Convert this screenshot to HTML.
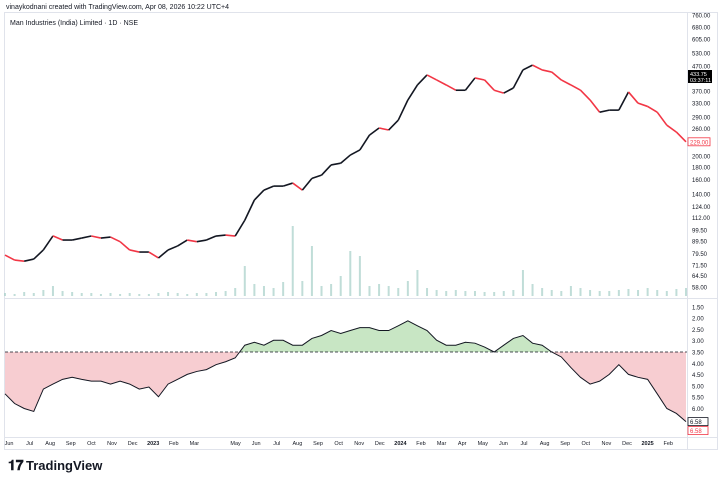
<!DOCTYPE html>
<html><head><meta charset="utf-8"><style>
body{margin:0;width:720px;height:481px;background:#fff;overflow:hidden;font-family:"Liberation Sans",sans-serif}
svg{position:absolute;left:0;top:0}
</style></head><body>
<svg id="c" width="720" height="481" xmlns="http://www.w3.org/2000/svg">
<text x="6" y="9" font-size="7" fill="#131722">vinaykodnani created with TradingView.com, Apr 08, 2026 10:22 UTC+4</text>
<rect x="4.5" y="12.5" width="713" height="437" fill="none" stroke="#e0e3eb"/>
<line x1="687.5" y1="12" x2="687.5" y2="450" stroke="#e0e3eb"/>
<line x1="5" y1="298.5" x2="718" y2="298.5" stroke="#e0e3eb"/>
<line x1="5" y1="437.5" x2="718" y2="437.5" stroke="#e0e3eb"/>
<text x="10" y="25" font-size="7" fill="#131722">Man Industries (India) Limited · 1D · NSE</text>
<g id="vol"></g><g id="price"></g><g id="osc"></g><g id="axes"></g>
<g>
<text x="8" y="470" font-size="14" font-weight="bold" fill="#131722">𝟏𝟕</text>
<text x="26" y="470" font-size="13" font-weight="bold" fill="#131722">TradingView</text>
</g>
</svg>
<script>
const priceTicks=[760,680,605,530,470,370,330,290,260,230,200,180,160,140,124,112,99.5,89.5,79.5,71.5,64.5,58];
const prices=[78.4,74.8,74,75.5,82.3,94,90.4,90.4,92.1,93.9,92.1,93,89,82.3,80.7,80.7,76.3,82.3,85.5,90.4,89,90.4,93.9,94.8,93.9,109,132,145,150.6,150.6,155,145,162,167,184,187,202,212,244,261,256,281,340,392,431,411,392,373,373,419,411,373,363,381,452,473,452,443,411,392,373,340,303,309,309,367,330,320,303,268,251,229];
const volumes=[3,2,4,3,6,10,5,4,3,3,2,3,2,3,2,2,3,4,3,2,3,3,4,5,8,30,12,10,8,14,70,15,50,10,12,20,45,40,10,12,10,8,15,26,8,6,5,6,5,5,4,4,5,6,26,12,8,6,5,10,8,6,5,5,6,7,6,8,6,5,7,8];
const oscTicks=[1.5,2,2.5,3,3.5,4,4.5,5,5.5,6,7];
const osc=[5.35,5.78,6.0,6.13,5.14,4.92,4.71,4.62,4.71,4.79,4.79,4.92,4.79,4.92,5.14,5.05,5.48,4.92,4.71,4.49,4.36,4.28,4.06,3.93,3.76,3.2,3.07,3.2,2.98,2.98,3.2,3.2,2.9,2.77,2.55,2.68,2.55,2.42,2.42,2.55,2.55,2.34,2.12,2.34,2.55,2.98,3.2,3.2,3.07,3.11,3.28,3.5,3.2,2.9,2.77,3.11,3.2,3.5,3.72,4.19,4.62,4.92,4.79,4.49,4.06,4.49,4.62,4.71,5.35,6.0,6.22,6.58];
const refLevel=3.5;
const timeLabels=["Jun","Jul","Aug","Sep","Oct","Nov","Dec","2023","Feb","Mar","May","Jun","Jul","Aug","Sep","Oct","Nov","Dec","2024","Feb","Mar","Apr","May","Jun","Jul","Aug","Sep","Oct","Nov","Dec","2025","Feb"];
const timeMonthIdx=[0,1,2,3,4,5,6,7,8,9,11,12,13,14,15,16,17,18,19,20,21,22,23,24,25,26,27,28,29,30,31,32];

const NS="http://www.w3.org/2000/svg";
function mk(tag,at,parent){const e=document.createElementNS(NS,tag);for(const k in at)e.setAttribute(k,at[k]);parent.appendChild(e);return e;}
const X0=5,X1=686;
const xScale=i=>X0+(X1-X0)*i/(prices.length-1);
const yPrice=p=>15+(Math.log(760)-Math.log(p))*105.7;
const yOsc=v=>352+(v-3.5)*22.6;
const xMonth=m=>9+m*20.6;
const axes=document.getElementById('axes');
priceTicks.forEach(t=>{const e=mk('text',{x:692,y:yPrice(t)+2.5,'font-size':6,fill:'#131722'},axes);e.textContent=t.toFixed(2);

});
oscTicks.forEach(t=>{const e=mk('text',{x:692,y:yOsc(t)+2.5,'font-size':6,fill:'#131722'},axes);e.textContent=t.toFixed(2);

});
timeLabels.forEach((t,i)=>{const e=mk('text',{x:xMonth(timeMonthIdx[i]),y:445,'font-size':5.5,fill:'#131722','text-anchor':'middle','font-weight':/^\d+$/.test(t)?'bold':'normal'},axes);e.textContent=t;

});
const vg=document.getElementById('vol');
volumes.forEach((v,i)=>{const h=v;const r=mk('rect',{x:xScale(i)-1,y:296-h,width:2,height:h,fill:'#a5cfc7',opacity:0.7},vg);

});
const pg=document.getElementById('price');
for(let i=1;i<prices.length;i++){const up=prices[i]>=prices[i-1];
const l=mk('line',{x1:xScale(i-1),y1:yPrice(prices[i-1]),x2:xScale(i),y2:yPrice(prices[i]),stroke:up?'#131722':'#f23645','stroke-width':1.6},pg);

}
const lp=prices[prices.length-1];
const lb=mk('rect',{x:688,y:yPrice(lp)-4,width:22,height:8,fill:'#fff',stroke:'#f23645','stroke-width':0.8},axes);


const lt=mk('text',{x:690,y:yPrice(lp)+2.5,'font-size':6,fill:'#f23645'},axes);lt.textContent=lp.toFixed(2);


const cb=mk('rect',{x:688,y:70,width:24,height:13,fill:'#000'},axes);


const ct=mk('text',{x:690,y:76,'font-size':5.5,fill:'#fff'},axes);ct.textContent='433.75';


const ct2=mk('text',{x:690,y:82,'font-size':5.5,fill:'#fff'},axes);ct2.textContent='03:37:11';


const og=document.getElementById('osc');
const yr=yOsc(refLevel);
let pts=osc.map((v,i)=>[xScale(i),yOsc(v)]);
const defs=mk('defs',{},og);
const c1=mk('clipPath',{id:'below'},defs);mk('rect',{x:0,y:yr,width:720,height:200},c1);
const c2=mk('clipPath',{id:'above'},defs);mk('rect',{x:0,y:0,width:720,height:yr},c2);
const area='M'+pts[0][0]+','+yr+' '+pts.map(p=>'L'+p[0]+','+p[1]).join(' ')+' L'+pts[pts.length-1][0]+','+yr+'Z';
const fr=mk('path',{d:area,fill:'#f7cdd1','clip-path':'url(#below)'},og);


const fg=mk('path',{d:area,fill:'#c8e6c4','clip-path':'url(#above)'},og);


const rl=mk('line',{x1:5,y1:yr,x2:687,y2:yr,stroke:'#131722','stroke-dasharray':'3,2','stroke-width':0.8},og);


const ol=mk('polyline',{points:pts.map(p=>p.join(',')).join(' '),fill:'none',stroke:'#131722','stroke-width':1},og);


const lo=osc[osc.length-1];
const ob=mk('rect',{x:688,y:yOsc(lo)-4,width:20,height:8,fill:'#fff',stroke:'#131722','stroke-width':0.8},axes);


const ot=mk('text',{x:690,y:yOsc(lo)+2.5,'font-size':6,fill:'#131722'},axes);ot.textContent=lo.toFixed(2);


const ob2=mk('rect',{x:688,y:yOsc(lo)+5,width:20,height:8,fill:'#fff',stroke:'#f23645','stroke-width':0.8},axes);


const ot2=mk('text',{x:690,y:yOsc(lo)+11.5,'font-size':6,fill:'#f23645'},axes);ot2.textContent=lo.toFixed(2);


</script>
</body></html>
